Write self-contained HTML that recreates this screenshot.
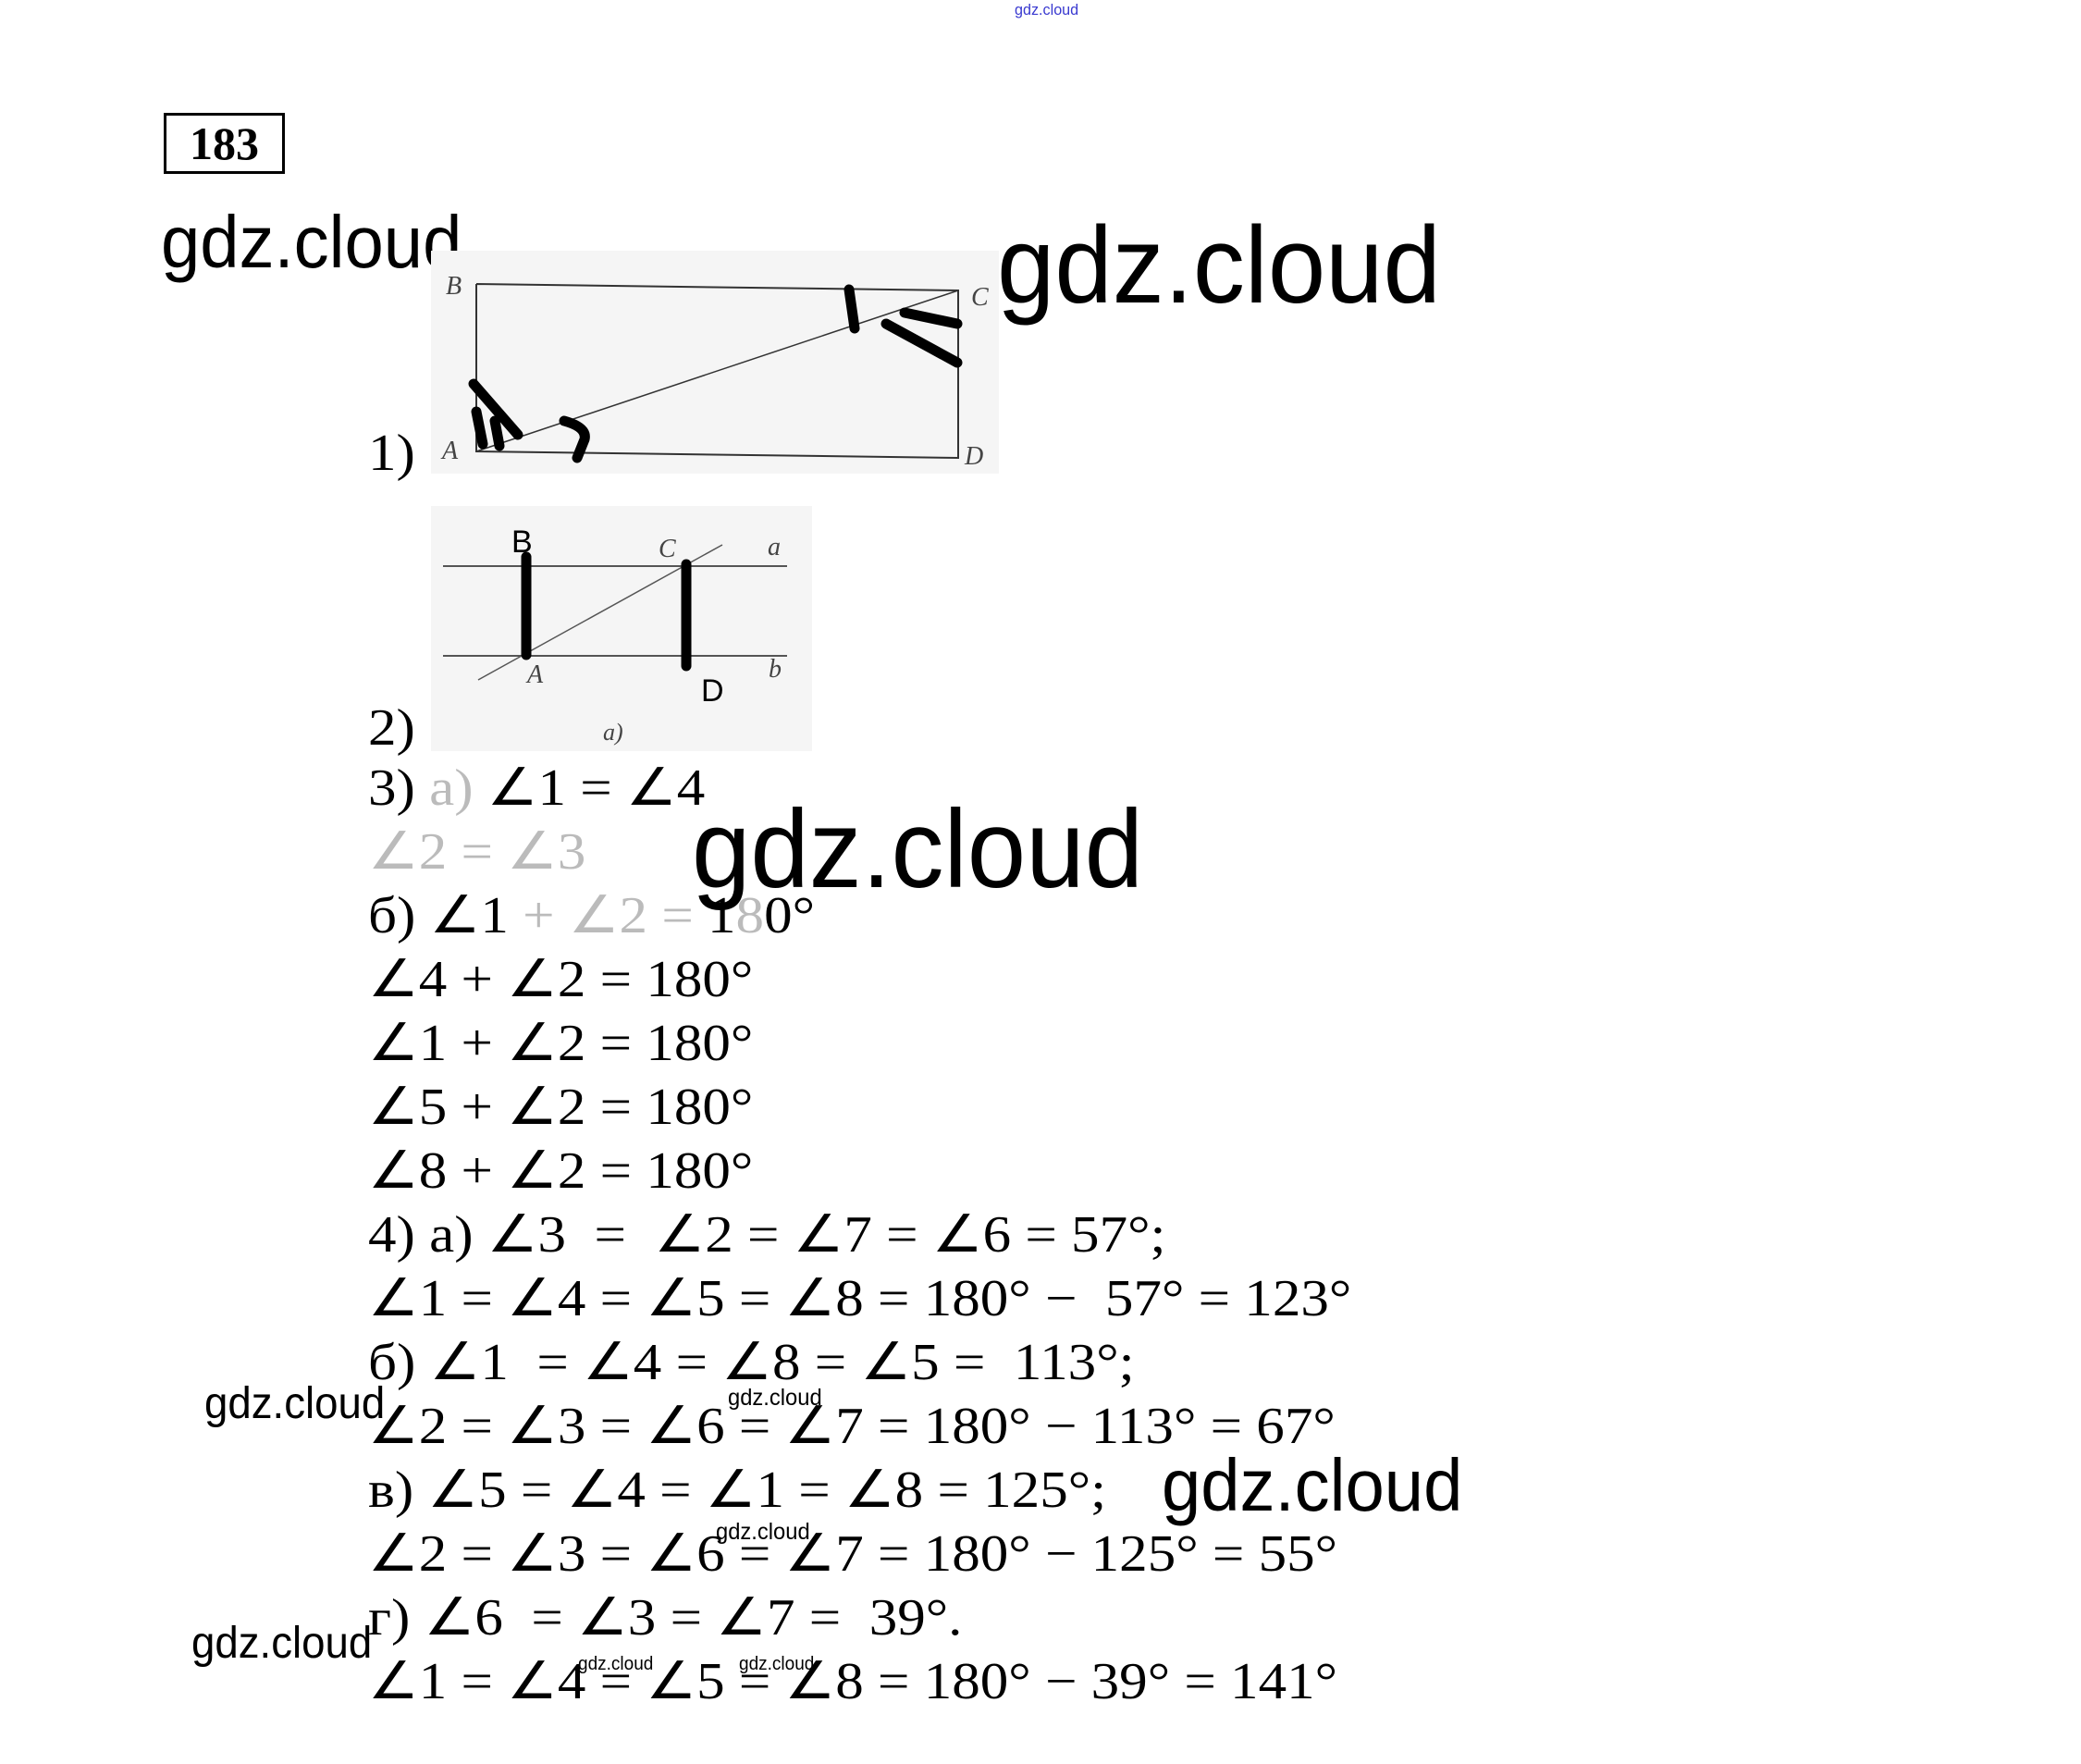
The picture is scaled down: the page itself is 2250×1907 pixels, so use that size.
<!DOCTYPE html>
<html><head><meta charset="utf-8"><style>
html,body{margin:0;padding:0;background:#fff;}
body{width:2250px;height:1907px;position:relative;overflow:hidden;}
.a{position:absolute;white-space:nowrap;line-height:1;}
.w{font-family:"Liberation Sans",sans-serif;color:#000;transform-origin:0 0;transform:scaleX(0.95);}
.m{font-family:"Liberation Serif",serif;font-size:56px;left:398px;transform-origin:0 0;transform:scaleX(1.09);}
.g{color:#bbb;}
</style></head><body>
<div class="a w" style="left:1097px;top:2px;font-size:17px;color:#3a3ad0;">gdz.cloud</div>
<div class="a" style="left:177px;top:122px;width:125px;height:60px;border:3px solid #000;font-family:'Liberation Serif',serif;font-weight:bold;font-size:50px;text-align:center;line-height:60px;">183</div>
<div class="a w" style="left:174px;top:222px;font-size:80px;">gdz.cloud</div>

<svg class="a" style="left:0;top:0" width="2250" height="1907">
<rect x="466" y="271" width="614" height="241" fill="#f5f5f5"/>
<g stroke="#333" stroke-width="2" fill="none">
<polyline points="515,307 1036,314 1036,495 515,488 515,307"/>
<line x1="515" y1="488" x2="1036" y2="314" stroke-width="1.5"/>
</g>
<g stroke="#000" stroke-width="11" stroke-linecap="round" fill="none">
<line x1="512" y1="415" x2="560" y2="470"/>
<line x1="535" y1="455" x2="540" y2="482"/>
<line x1="515" y1="445" x2="522" y2="480"/>
<path d="M610,455 Q635,462 632,475 L624,495"/>
<line x1="918" y1="313" x2="924" y2="355"/>
<line x1="978" y1="338" x2="1035" y2="350"/>
<line x1="958" y1="350" x2="1035" y2="392"/>
</g>
<g font-family="Liberation Serif,serif" font-style="italic" font-size="28" fill="#444">
<text x="482" y="318">B</text><text x="1050" y="330">C</text>
<text x="1043" y="502">D</text><text x="478" y="496">A</text>
</g>
<rect x="466" y="547" width="412" height="265" fill="#f5f5f5"/>
<g stroke="#555" stroke-width="2">
<line x1="479" y1="612" x2="851" y2="612"/>
<line x1="479" y1="709" x2="851" y2="709"/>
<line x1="517" y1="735" x2="781" y2="589" stroke-width="1.5"/>
</g>
<g stroke="#000" stroke-width="11" stroke-linecap="round">
<line x1="569" y1="602" x2="569" y2="708"/>
<line x1="742" y1="610" x2="742" y2="720"/>
</g>
<g font-family="Liberation Serif,serif" font-style="italic" font-size="28" fill="#444">
<text x="712" y="602">C</text><text x="830" y="600">a</text>
<text x="570" y="738">A</text><text x="831" y="732">b</text>
<text x="652" y="800" font-size="26">a)</text>
</g>
<g font-family="Liberation Sans,sans-serif" font-size="34" fill="#000">
<text x="553" y="597">B</text><text x="758" y="758">D</text>
</g>
</svg>

<div class="a w" style="left:1078px;top:228px;font-size:118px;">gdz.cloud</div>
<div class="a m" style="top:462px;">1)</div>
<div class="a m" style="top:759px;">2)</div>

<div class="a m" style="top:824px;">3) <span class="g">а)</span> ∠1 = ∠4</div>
<div class="a m" style="top:893px;"><span class="g">∠2 = ∠3</span></div>
<div class="a m" style="top:962px;">б) ∠1 <span class="g">+ ∠2 =</span> 1<span class="g">8</span>0°</div>
<div class="a m" style="top:1031px;">∠4 + ∠2 = 180°</div>
<div class="a m" style="top:1100px;">∠1 + ∠2 = 180°</div>
<div class="a m" style="top:1169px;">∠5 + ∠2 = 180°</div>
<div class="a m" style="top:1238px;">∠8 + ∠2 = 180°</div>
<div class="a m" style="top:1307px;">4) а) ∠3 &nbsp;= &nbsp;∠2 = ∠7 = ∠6 = 57°;</div>
<div class="a m" style="top:1376px;">∠1 = ∠4 = ∠5 = ∠8 = 180° − &nbsp;57° = 123°</div>
<div class="a m" style="top:1445px;">б) ∠1 &nbsp;= ∠4 = ∠8 = ∠5 = &nbsp;113°;</div>
<div class="a m" style="top:1514px;">∠2 = ∠3 = ∠6 = ∠7 = 180° − 113° = 67°</div>
<div class="a m" style="top:1583px;">в) ∠5 = ∠4 = ∠1 = ∠8 = 125°;</div>
<div class="a m" style="top:1652px;">∠2 = ∠3 = ∠6 = ∠7 = 180° − 125° = 55°</div>
<div class="a m" style="top:1721px;">г) ∠6 &nbsp;= ∠3 = ∠7 = &nbsp;39°.</div>
<div class="a m" style="top:1790px;">∠1 = ∠4 = ∠5 = ∠8 = 180° − 39° = 141°</div>

<div class="a w" style="left:748px;top:858px;font-size:120px;">gdz.cloud</div>
<div class="a w" style="left:221px;top:1494px;font-size:48px;">gdz.cloud</div>
<div class="a w" style="left:787px;top:1499px;font-size:25px;">gdz.cloud</div>
<div class="a w" style="left:1256px;top:1566px;font-size:80px;">gdz.cloud</div>
<div class="a w" style="left:774px;top:1644px;font-size:25px;">gdz.cloud</div>
<div class="a w" style="left:207px;top:1753px;font-size:48px;">gdz.cloud</div>
<div class="a w" style="left:625px;top:1789px;font-size:20px;">gdz.cloud</div>
<div class="a w" style="left:799px;top:1789px;font-size:20px;">gdz.cloud</div>
</body></html>
